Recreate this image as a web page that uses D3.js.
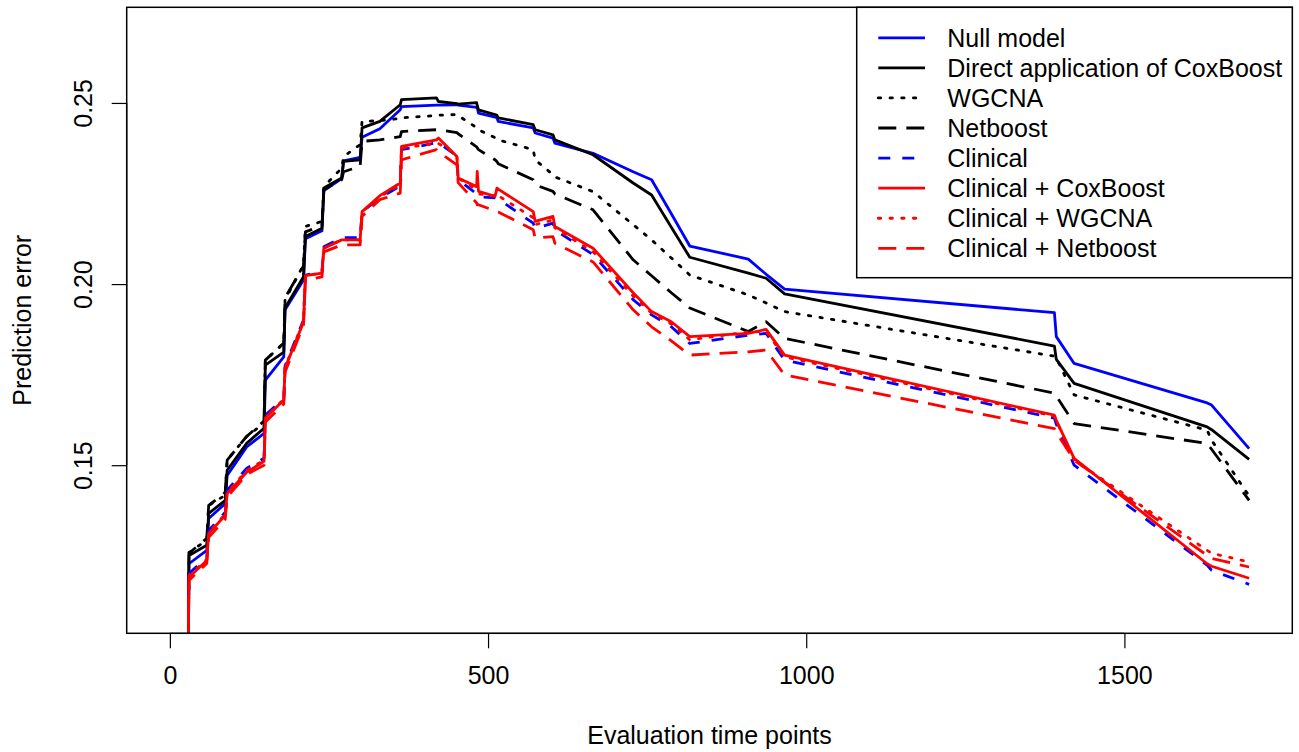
<!DOCTYPE html>
<html>
<head>
<meta charset="utf-8">
<script src="https://cdn.jsdelivr.net/npm/d3@7"></script>
<style>
  html, body { margin: 0; padding: 0; background: #fff; }
  svg { display: block; }
  text { font-family: "Liberation Sans", Arial, Helvetica, sans-serif; fill: #000; }
</style>
</head>
<body>
<svg id="chart" width="1299" height="752"></svg>
<script>
// ---------- DATA ----------
const times = [29, 30, 58, 61, 87, 90, 121, 148, 150, 179, 181, 210, 213, 239, 242, 270, 273, 299, 302, 330,
  362, 364, 419, 422, 451, 453, 482, 483, 485, 511, 514, 516, 571, 574, 602, 605, 665, 728, 757, 788,
  817, 909, 937, 966, 1390, 1393, 1421, 1630, 1637, 1696];

const nullModel = [0.10, 0.1228, 0.1265, 0.1353, 0.1394, 0.1472, 0.1551, 0.1588, 0.1735, 0.1799, 0.1929, 0.2011, 0.2125, 0.2147, 0.2258, 0.2291, 0.2340, 0.2350, 0.2405, 0.2429,
  0.2481, 0.2490, 0.2494, 0.2494, 0.2495, 0.2494, 0.2488, 0.2487, 0.2472, 0.2461, 0.2459, 0.2449, 0.2431, 0.2417, 0.2403, 0.2389, 0.2361, 0.2310, 0.2288, 0.2194,
  0.2105, 0.2069, 0.2027, 0.1986, 0.1921, 0.1855, 0.1781, 0.1672, 0.1666, 0.1546];

const directCoxBoost = [0.10, 0.1251, 0.1279, 0.1367, 0.1403, 0.1486, 0.1561, 0.1602, 0.1776, 0.1812, 0.1934, 0.2020, 0.2131, 0.2154, 0.2265, 0.2293, 0.2339, 0.2343, 0.2431, 0.2449,
  0.2495, 0.2509, 0.2514, 0.2504, 0.2498, 0.2497, 0.2501, 0.2493, 0.2481, 0.2468, 0.2466, 0.2459, 0.2440, 0.2426, 0.2412, 0.2398, 0.2357, 0.2279, 0.2246, 0.2157,
  0.2074, 0.2030, 0.2016, 0.1973, 0.1829, 0.1792, 0.1726, 0.1606, 0.1598, 0.1516];

const wgcna = [0.10, 0.1259, 0.1293, 0.1389, 0.1417, 0.1514, 0.1580, 0.1616, 0.1790, 0.1837, 0.1956, 0.2053, 0.2159, 0.2173, 0.2269, 0.2320, 0.2352, 0.2385, 0.2449, 0.2451,
  0.2457, 0.2459, 0.2465, 0.2466, 0.2468, 0.2465, 0.2432, 0.2429, 0.2426, 0.2404, 0.2401, 0.2398, 0.2371, 0.2343, 0.2302, 0.2296, 0.2255, 0.2164, 0.2122, 0.2072,
  0.2025, 0.1970, 0.1948, 0.1924, 0.1801, 0.1796, 0.1694, 0.1597, 0.1569, 0.1415];

const netboost = [0.10, 0.1257, 0.1298, 0.1389, 0.1425, 0.1514, 0.1580, 0.1622, 0.1790, 0.1837, 0.1962, 0.2050, 0.2144, 0.2161, 0.2260, 0.2288, 0.2310, 0.2325, 0.2394, 0.2398,
  0.2407, 0.2421, 0.2426, 0.2426, 0.2418, 0.2415, 0.2379, 0.2376, 0.2371, 0.2343, 0.2338, 0.2332, 0.2288, 0.2274, 0.2256, 0.2249, 0.2205, 0.2067, 0.2023, 0.1976,
  0.1934, 0.1869, 0.1896, 0.1850, 0.1699, 0.1691, 0.1615, 0.1560, 0.1544, 0.1403];

const clinical = [0.10, 0.1201, 0.1246, 0.1320, 0.1370, 0.1431, 0.1492, 0.1519, 0.1638, 0.1685, 0.1774, 0.1901, 0.2025, 0.2034, 0.2103, 0.2128, 0.2128, 0.2128, 0.2199, 0.2238,
  0.2271, 0.2371, 0.2390, 0.2390, 0.2354, 0.2288, 0.2249, 0.2249, 0.2241, 0.2238, 0.2237, 0.2235, 0.2168, 0.2154, 0.2168, 0.2150, 0.2081, 0.1957, 0.1915, 0.1882,
  0.1836, 0.1859, 0.1864, 0.1790, 0.1630, 0.1613, 0.1500, 0.1224, 0.1210, 0.1171];

const clinicalCoxBoost = [0.10, 0.1191, 0.1237, 0.1311, 0.1362, 0.1422, 0.1481, 0.1511, 0.1630, 0.1680, 0.1768, 0.1895, 0.2023, 0.2030, 0.2099, 0.2122, 0.2122, 0.2122, 0.2200, 0.2244,
  0.2279, 0.2380, 0.2398, 0.2403, 0.2352, 0.2293, 0.2269, 0.2311, 0.2256, 0.2242, 0.2265, 0.2262, 0.2200, 0.2173, 0.2187, 0.2159, 0.2099, 0.1976, 0.1924, 0.1896,
  0.1855, 0.1864, 0.1875, 0.1804, 0.1638, 0.1624, 0.1519, 0.1228, 0.1221, 0.1188];

const clinicalWgcna = [0.10, 0.1196, 0.1240, 0.1315, 0.1365, 0.1425, 0.1486, 0.1514, 0.1633, 0.1682, 0.1771, 0.1898, 0.2023, 0.2031, 0.2100, 0.2122, 0.2122, 0.2122, 0.2199, 0.2241,
  0.2274, 0.2376, 0.2388, 0.2388, 0.2357, 0.2293, 0.2260, 0.2274, 0.2249, 0.2244, 0.2249, 0.2244, 0.2183, 0.2164, 0.2177, 0.2155, 0.2089, 0.1967, 0.1920, 0.1890,
  0.1846, 0.1868, 0.1869, 0.1799, 0.1635, 0.1622, 0.1514, 0.1265, 0.1257, 0.1233];

const clinicalNetboost = [0.10, 0.1182, 0.1229, 0.1301, 0.1351, 0.1412, 0.1475, 0.1500, 0.1619, 0.1669, 0.1757, 0.1887, 0.2011, 0.2020, 0.2089, 0.2108, 0.2108, 0.2108, 0.2187, 0.2233,
  0.2251, 0.2343, 0.2371, 0.2365, 0.2329, 0.2280, 0.2224, 0.2219, 0.2219, 0.2202, 0.2200, 0.2199, 0.2150, 0.2127, 0.2131, 0.2113, 0.2061, 0.1929, 0.1882, 0.1843,
  0.1804, 0.1813, 0.1818, 0.1749, 0.1601, 0.1591, 0.1514, 0.1251, 0.1243, 0.1219];

const seriesNames = ["Null model", "Direct application of CoxBoost", "WGCNA", "Netboost",
  "Clinical", "Clinical + CoxBoost", "Clinical + WGCNA", "Clinical + Netboost"];
const seriesValues = [nullModel, directCoxBoost, wgcna, netboost, clinical, clinicalCoxBoost, clinicalWgcna, clinicalNetboost];
const seriesColors = ["#0000ff", "#000000", "#000000", "#000000", "#0000ff", "#ff0000", "#ff0000", "#ff0000"];
const seriesDash = ["solid", "solid", "dotted", "longdash", "dashed", "solid", "dotted", "longdash"];

const xTicks = [0, 500, 1000, 1500];
const yTicks = [0.15, 0.20, 0.25];
const yTickLabels = ["0.15", "0.20", "0.25"];
const xLim = [0, 1696];
const yLim = [0.11, 0.27];
const xTitle = "Evaluation time points";
const yTitle = "Prediction error";

// ---------- LAYOUT ----------
const plot = { left: 126.7, right: 1292.3, top: 7.3, bottom: 633.3 };
const fontSize = 25;
const lw = 2.8;
const dashMap = { solid: null, dotted: "2.4,9.3", dashed: "12,12", longdash: "18,10" };

const pad = (lim) => { const r = lim[1] - lim[0]; return [lim[0] - 0.04 * r, lim[1] + 0.04 * r]; };
const x = d3.scaleLinear().domain(pad(xLim)).range([plot.left, plot.right]);
const y = d3.scaleLinear().domain(pad(yLim)).range([plot.bottom, plot.top]);

const svg = d3.select("#chart");

svg.append("defs").append("clipPath").attr("id", "clip")
  .append("rect").attr("x", plot.left).attr("y", plot.top)
  .attr("width", plot.right - plot.left).attr("height", plot.bottom - plot.top);

// lines
const line = d3.line().x(d => x(d[0])).y(d => y(d[1]));
const gLines = svg.append("g").attr("clip-path", "url(#clip)");
seriesValues.forEach((vals, i) => {
  const pts = times.map((t, j) => [t, vals[j]]);
  gLines.append("path")
    .datum(pts)
    .attr("d", line)
    .attr("fill", "none")
    .attr("stroke", seriesColors[i])
    .attr("stroke-width", lw)
    .attr("stroke-linejoin", "round")
    .attr("stroke-linecap", seriesDash[i] === "dotted" ? "round" : "butt")
    .attr("stroke-dasharray", dashMap[seriesDash[i]]);
});

// box
svg.append("rect")
  .attr("x", plot.left).attr("y", plot.top)
  .attr("width", plot.right - plot.left).attr("height", plot.bottom - plot.top)
  .attr("fill", "none").attr("stroke", "#000").attr("stroke-width", 1.5);

// x axis
const xAxis = d3.axisBottom(x).tickValues(xTicks).tickSize(15).tickPadding(18).tickFormat(d3.format("d"));
const gx = svg.append("g").attr("transform", `translate(0,${plot.bottom})`).call(xAxis);
gx.select(".domain").attr("d", `M${x(xTicks[0])},0H${x(xTicks[xTicks.length - 1])}`).attr("stroke-width", 1.2);
gx.selectAll(".tick line").attr("stroke-width", 1.2);
gx.selectAll("text").style("font-size", fontSize + "px").style("font-family", '"Liberation Sans", Arial, sans-serif');

// y axis
const yAxis = d3.axisLeft(y).tickValues(yTicks).tickSize(15).tickFormat((d, i) => yTickLabels[i]);
const gy = svg.append("g").attr("transform", `translate(${plot.left},0)`).call(yAxis);
gy.select(".domain").attr("d", `M0,${y(yTicks[0])}V${y(yTicks[yTicks.length - 1])}`).attr("stroke-width", 1.2);
gy.selectAll(".tick line").attr("stroke-width", 1.2);
gy.selectAll(".tick text")
  .attr("x", null).attr("dy", null)
  .attr("transform", "translate(-43,0) rotate(-90)")
  .attr("text-anchor", "middle")
  .attr("dy", "0.35em")
  .style("font-size", fontSize + "px").style("font-family", '"Liberation Sans", Arial, sans-serif');

// axis titles
svg.append("text")
  .attr("x", (plot.left + plot.right) / 2).attr("y", 735)
  .attr("text-anchor", "middle").attr("dy", "0.35em")
  .style("font-size", fontSize + "px").text(xTitle);
svg.append("text")
  .attr("transform", `translate(22,${(plot.top + plot.bottom) / 2}) rotate(-90)`)
  .attr("text-anchor", "middle").attr("dy", "0.35em")
  .style("font-size", fontSize + "px").text(yTitle);

// legend
const leg = { left: 856.7, top: plot.top, right: plot.right, bottom: 277.7 };
svg.append("rect")
  .attr("x", leg.left).attr("y", leg.top)
  .attr("width", leg.right - leg.left).attr("height", leg.bottom - leg.top)
  .attr("fill", "#fff").attr("stroke", "#000").attr("stroke-width", 1.5);
const rowY = d3.scaleLinear().domain([0, seriesNames.length - 1]).range([37.8, 248.3]);
seriesNames.forEach((name, i) => {
  const yy = rowY(i);
  svg.append("line")
    .attr("x1", 878.3).attr("x2", 925).attr("y1", yy).attr("y2", yy)
    .attr("stroke", seriesColors[i]).attr("stroke-width", lw)
    .attr("stroke-linecap", seriesDash[i] === "dotted" ? "round" : "butt")
    .attr("stroke-dasharray", dashMap[seriesDash[i]]);
  svg.append("text")
    .attr("x", 947.3).attr("y", yy).attr("dy", "0.35em")
    .style("font-size", fontSize + "px").text(name);
});
</script>
</body>
</html>
